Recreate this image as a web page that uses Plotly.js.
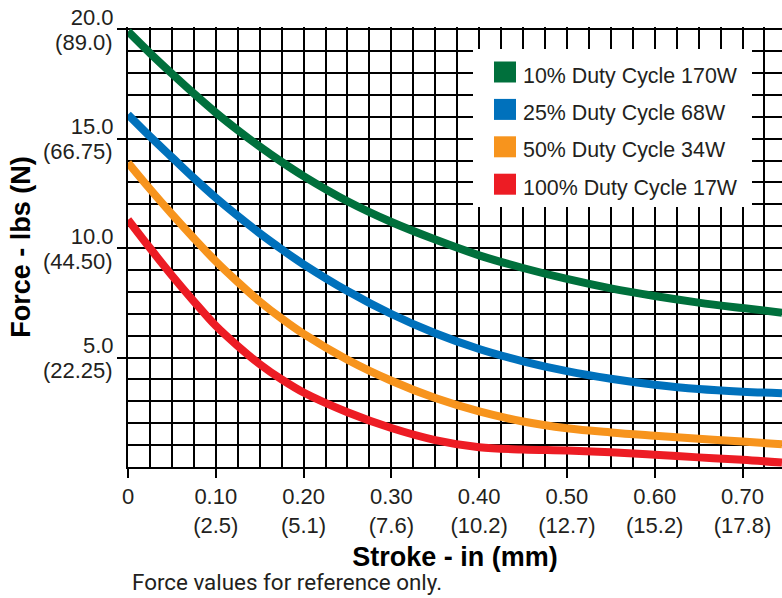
<!DOCTYPE html>
<html><head><meta charset="utf-8">
<script src="https://cdn.plot.ly/plotly-3.0.1.min.js"></script>
<style>html,body{margin:0;padding:0;background:#fff;} #chart{width:782px;height:598px;}</style>
</head><body><div id="chart"></div>
<script>
// ---- data ----
const stroke   = [0, 0.025, 0.05, 0.075, 0.1, 0.125, 0.15, 0.175, 0.2, 0.25, 0.3, 0.35, 0.4, 0.45, 0.5, 0.55, 0.6, 0.65, 0.7, 0.745];
const force10  = [19.9, 18.91, 17.97, 17.06, 16.19, 15.39, 14.64, 13.94, 13.29, 12.14, 11.19, 10.39, 9.67, 9.09, 8.59, 8.16, 7.81, 7.51, 7.26, 7.05];
const force25  = [16.1, 15.1, 14.15, 13.2, 12.3, 11.47, 10.68, 9.95, 9.26, 8.04, 6.99, 6.11, 5.39, 4.83, 4.38, 4.03, 3.76, 3.56, 3.44, 3.37];
const force50  = [13.9, 12.7, 11.55, 10.45, 9.4, 8.45, 7.56, 6.78, 6.08, 4.9, 3.94, 3.15, 2.54, 2.08, 1.77, 1.58, 1.43, 1.29, 1.16, 1.04];
const force100 = [11.3, 10.0, 8.75, 7.57, 6.45, 5.53, 4.7, 4.0, 3.4, 2.5, 1.78, 1.23, 0.9, 0.8, 0.75, 0.67, 0.56, 0.44, 0.33, 0.2];

const seriesNames  = ['10% Duty Cycle 170W', '25% Duty Cycle 68W', '50% Duty Cycle 34W', '100% Duty Cycle 17W'];
const seriesColors = ['#00703c', '#0071bc', '#f7941d', '#ed1c24'];
const seriesValues = [force10, force25, force50, force100];

const xTickVals = [0, 0.1, 0.2, 0.3, 0.4, 0.5, 0.6, 0.7];
const xTickText = ['0', '0.10<br>(2.5)', '0.20<br>(5.1)', '0.30<br>(7.6)', '0.40<br>(10.2)', '0.50<br>(12.7)', '0.60<br>(15.2)', '0.70<br>(17.8)'];
const yTickVals = [5, 10, 15, 20];
const yTickLbs  = ['5.0', '10.0', '15.0', '20.0'];
const yTickN    = ['(22.25)', '(44.50)', '(66.75)', '(89.0)'];

const xTitle = 'Stroke - in (mm)';
const yTitle = 'Force - lbs (N)';
const note = 'Force values for reference only.';

// ---- layout helpers (pixel -> paper) ----
const M = {l:128, r:0, t:27, b:131};
const PW = 782 - M.l - M.r, PH = 598 - M.t - M.b;
const X = px => (px - M.l) / PW;
const Y = py => (598 - M.b - py) / PH;
const FONT = 'Liberation Sans, Arial, Helvetica, sans-serif';
const INK = '#231f20';

// the last series sits on the overlay axis (same range) that carries the lbs labels
const traces = seriesValues.map((vals, i) => ({
  type: 'scatter', mode: 'lines', name: seriesNames[i],
  x: stroke, y: vals, yaxis: i === seriesValues.length - 1 ? 'y2' : 'y',
  line: {color: seriesColors[i], width: 8, shape: 'spline', smoothing: 1},
  hoverinfo: 'skip', showlegend: false
}));

const shapes = [{
  type: 'rect', xref: 'paper', yref: 'paper', layer: 'above',
  x0: X(473), x1: X(752), y0: Y(207), y1: Y(49),
  fillcolor: '#ffffff', line: {width: 0}
}];
const annotations = [];
seriesNames.forEach((n, i) => {
  const cy = 72 + 37.4 * i;
  shapes.push({
    type: 'rect', xref: 'paper', yref: 'paper', layer: 'above',
    x0: X(494), x1: X(516), y0: Y(cy + 10.5), y1: Y(cy - 10.5),
    fillcolor: seriesColors[i], line: {width: 0}
  });
  annotations.push({
    xref: 'paper', yref: 'paper', x: X(521), y: Y(cy + 3.5), xanchor: 'left', yanchor: 'middle',
    text: n, showarrow: false, font: {family: FONT, size: 21.4, color: INK}
  });
});
annotations.push({
  xref: 'paper', yref: 'paper', x: X(130), y: Y(582), xanchor: 'left', yanchor: 'middle',
  text: note, showarrow: false, font: {family: 'Roboto, sans-serif', size: 22.4, color: INK}
});

const axisCommon = {
  ticks: 'outside', ticklen: 9, tickwidth: 2, tickcolor: '#000',
  showline: true, linecolor: '#000', linewidth: 2,
  showgrid: true, gridcolor: '#000', gridwidth: 2, zeroline: false,
  tickfont: {family: FONT, size: 22, color: INK},
  fixedrange: true, automargin: false
};

const layout = {
  width: 782, height: 598,
  margin: {l: M.l, r: M.r, t: M.t, b: M.b, pad: 0},
  paper_bgcolor: '#fff', plot_bgcolor: '#fff',
  showlegend: false,
  font: {family: FONT, color: INK},
  xaxis: Object.assign({}, axisCommon, {
    range: [0, 0.745], tickmode: 'array', tickvals: xTickVals, ticktext: xTickText,
    minor: {dtick: 0.025, tick0: 0, showgrid: true, gridcolor: '#000', gridwidth: 2, ticks: ''},
    title: {text: xTitle, font: {family: FONT, size: 27, weight: 'bold', color: '#000'}, standoff: 10}
  }),
  yaxis: Object.assign({}, axisCommon, {
    range: [0, 20.1], tickmode: 'array', tickvals: yTickVals, ticktext: yTickN,
    ticklabelshift: 13,
    minor: {dtick: 1, tick0: 0, showgrid: true, gridcolor: '#000', gridwidth: 2, ticks: ''},
    title: {text: yTitle, font: {family: FONT, size: 27, weight: 'bold', color: '#000'}, standoff: 4}
  }),
  yaxis2: {
    overlaying: 'y', anchor: 'x', side: 'left', range: [0, 20.1],
    tickmode: 'array', tickvals: yTickVals, ticktext: yTickLbs,
    ticks: 'outside', ticklen: 9, tickwidth: 2, tickcolor: 'rgba(0,0,0,0)',
    ticklabelshift: -12,
    showline: false, showgrid: false, zeroline: false,
    tickfont: {family: FONT, size: 22, color: INK},
    fixedrange: true, automargin: false
  },
  shapes: shapes,
  annotations: annotations
};

Plotly.newPlot('chart', traces, layout, {displayModeBar: false, staticPlot: true});
</script>
</body></html>
